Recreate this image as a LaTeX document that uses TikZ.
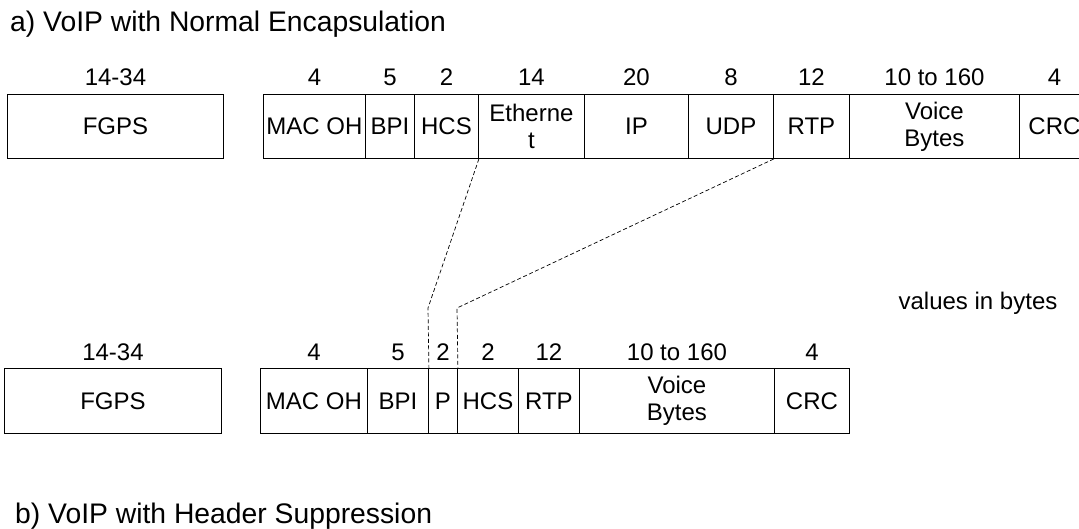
\documentclass[tikz,border=0pt]{standalone}
\usepackage{fontspec}
\setmainfont{Liberation Sans}
\begin{document}
\begin{tikzpicture}[x=1pt,y=-1pt,
  field/.style={draw,line width=0.9pt,inner sep=0pt,minimum height=64pt,align=center,
    font=\fontsize{24}{27}\selectfont},
  bytelbl/.style={anchor=base,inner sep=0pt,font=\fontsize{24}{28}\selectfont},
  caption/.style={anchor=base west,inner sep=0pt,font=\fontsize{28.3}{30}\selectfont},
  link/.style={dashed,dash pattern=on 4pt off 2.5pt,line width=0.7pt}]
  \useasboundingbox (0,0) rectangle (1079,529);
  \clip (0,0) rectangle (1079,529);
  % a) normal encapsulation
  \node[caption] (titleA) at (10,32) {a) VoIP with Normal Encapsulation};
  \foreach \nm/\xa/\xb/\txt/\sz in {fgpsA/7/223/FGPS/14-34, macA/263/365/MAC OH/4,
      bpiA/365/414/BPI/5, hcsA/414/478/HCS/2, ethA/478/584/{Etherne\\t}/14,
      ipA/584/688/IP/20, udpA/688/773/UDP/8, rtpA/773/849/RTP/12,
      voiceA/849/1019/{Voice\\Bytes}/10 to 160, crcA/1019/1089/CRC/4} {
    \node[field,anchor=north west,minimum width={(\xb-\xa)*1pt}] (\nm) at (\xa,94) {\txt};
    \node[bytelbl] (\nm-sz) at ([yshift=8pt]\nm.north) {\sz};
  }
  % b) header suppression
  \foreach \nm/\xa/\xb/\txt/\sz in {fgpsB/4/221/FGPS/14-34, macB/260/367/MAC OH/4,
      bpiB/367/428/BPI/5, pB/428/457/P/2, hcsB/457/518/HCS/2, rtpB/518/579/RTP/12,
      voiceB/579/774/{Voice\\Bytes}/10 to 160, crcB/774/849/CRC/4} {
    \node[field,anchor=north west,minimum width={(\xb-\xa)*1pt},minimum height=65pt] (\nm) at (\xa,368) {\txt};
    \node[bytelbl] (\nm-sz) at ([yshift=8pt]\nm.north) {\sz};
  }
  \node[caption] (titleB) at (15,523) {b) VoIP with Header Suppression};
  \node[bytelbl] (unit) at (978,309) {values in bytes};
  % suppressed header fields
  \coordinate (kinkP) at (428,308);
  \coordinate (kinkH) at (457,308);
  \draw[link] (hcsA.south east) -- (kinkP) -- (bpiB.north east);
  \draw[link] (udpA.south east) -- (kinkH) -- (pB.north east);
\end{tikzpicture}
\end{document}
